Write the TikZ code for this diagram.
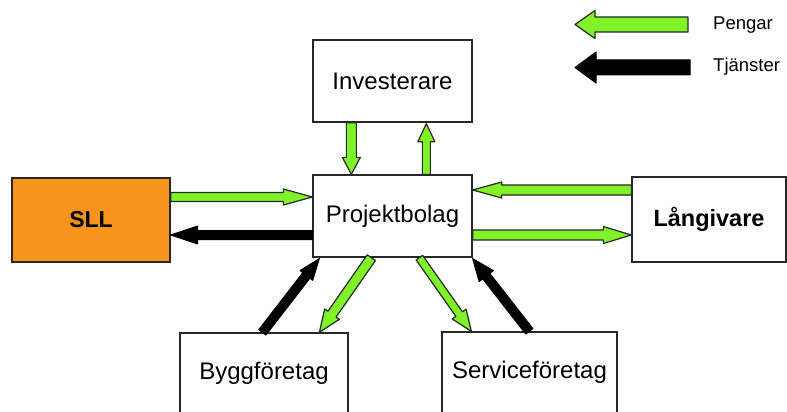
\documentclass[tikz,border=0pt]{standalone}
\usepackage{fontspec}
\setmainfont{Liberation Sans}
\usetikzlibrary{calc}
\definecolor{sllorange}{RGB}{247,148,29}
\definecolor{mgreen}{RGB}{128,242,40}
\definecolor{edgec}{RGB}{40,40,40}
% block arrow: style, from, to, half shaft width, half head width, head length
\newcommand\barrow[6]{%
  \path[#1] let \p1=(#2), \p2=(#3), \n1={atan2(\y2-\y1,\x2-\x1)}, \n2={veclen(\x2-\x1,\y2-\y1)-#6} in
  ($(\p1)+(\n1+90:#4)$) -- ($(\p1)+(\n1:\n2)+(\n1+90:#4)$) -- ($(\p1)+(\n1:\n2)+(\n1+90:#5)$) -- (\p2)
  -- ($(\p1)+(\n1:\n2)+(\n1-90:#5)$) -- ($(\p1)+(\n1:\n2)+(\n1-90:#4)$) -- ($(\p1)+(\n1-90:#4)$) -- cycle;}
\tikzset{
  box/.style={draw=edgec, line width=1.3pt, fill=white, inner sep=0pt, font=\fontsize{24}{28}\selectfont},
  garrow/.style={fill=mgreen, draw=edgec, line width=1.2pt, line join=round},
  karrow/.style={fill=black, draw=black, line width=1pt, line join=round},
  legtext/.style={anchor=west, inner sep=0pt, font=\fontsize{18.5}{22}\selectfont}
}
\begin{document}
\begin{tikzpicture}[x=1pt,y=1pt]
\clip (0,0) rectangle (787,-412);
\fill[white] (0,0) rectangle (787,-412);

% boxes
\node[box, minimum width=159pt, minimum height=82pt] (inv) at (392.5,-81) {Investerare};
\node[box, minimum width=159pt, minimum height=82pt] (proj) at (392.5,-216) {Projektbolag};
\node[box, fill=sllorange, minimum width=158pt, minimum height=84pt, font=\fontsize{23}{27}\selectfont\bfseries] (sll) at (91,-220) {SLL};
\node[box, minimum width=154pt, minimum height=85pt, font=\fontsize{23.5}{27}\selectfont\bfseries] (lang) at (709,-219.5) {Långivare};
\node[box, minimum width=168pt, minimum height=80pt] (bygg) at (264,-373) {Byggföretag};
\node[box, minimum width=175pt, minimum height=81pt] (serv) at (529.5,-372.5) {Serviceföretag};

% connector end points
\coordinate (a1s) at ($(inv.south west)+(39,0)$);
\coordinate (a1e) at ($(proj.north west)+(39,0)$);
\coordinate (a2s) at ($(proj.north west)+(114,0)$);
\coordinate (a2e) at ($(inv.south west)+(114,-1)$);
\coordinate (a3s) at ($(sll.east)+(0,23)$);
\coordinate (a3e) at ($(proj.west)+(0,19)$);
\coordinate (a4s) at ($(proj.west)+(0,-19)$);
\coordinate (a4e) at ($(sll.east)+(0,-15)$);
\coordinate (a5s) at ($(lang.west)+(0,29.5)$);
\coordinate (a5e) at ($(proj.east)+(0,26)$);
\coordinate (a6s) at ($(proj.east)+(0,-19)$);
\coordinate (a6e) at ($(lang.west)+(0,-15.5)$);
\coordinate (a7s) at ($(bygg.north west)+(83,0)$);
\coordinate (a7e) at ($(proj.south west)+(7,-1)$);
\coordinate (a8s) at ($(proj.south west)+(59,0)$);
\coordinate (a8e) at ($(bygg.north west)+(140,0)$);
\coordinate (a9s) at ($(proj.south west)+(107,0)$);
\coordinate (a9e) at ($(serv.north west)+(30,0)$);
\coordinate (a10s) at ($(serv.north west)+(88,0)$);
\coordinate (a10e) at ($(proj.south east)+(0,-1)$);

% arrows
\barrow{garrow}{a1s}{a1e}{5}{9}{17}
\barrow{garrow}{a2s}{a2e}{4}{8.5}{18}
\barrow{garrow}{a3s}{a3e}{4.5}{8}{29}
\barrow{karrow}{a4s}{a4e}{4.5}{9}{27}
\barrow{garrow}{a5s}{a5e}{5}{8}{29}
\barrow{garrow}{a6s}{a6e}{5}{8.5}{28}
\barrow{karrow}{a7s}{a7e}{4.5}{8}{21}
\barrow{garrow}{a8s}{a8e}{5}{9}{22}
\barrow{garrow}{a9s}{a9e}{4}{8.5}{21}
\barrow{karrow}{a10s}{a10e}{4.5}{9}{22}

% legend
\coordinate (l1s) at (688,-24.5);
\coordinate (l1e) at (575,-24.5);
\coordinate (l2s) at (690,-67.5);
\coordinate (l2e) at (575,-67.5);
\barrow{garrow}{l1s}{l1e}{7.5}{14}{20}
\barrow{karrow}{l2s}{l2e}{7.5}{15.5}{21}
\node[legtext] (peng) at (713,-25) {Pengar};
\node[legtext] (tj) at (713,-67) {Tjänster};
\end{tikzpicture}
\end{document}
